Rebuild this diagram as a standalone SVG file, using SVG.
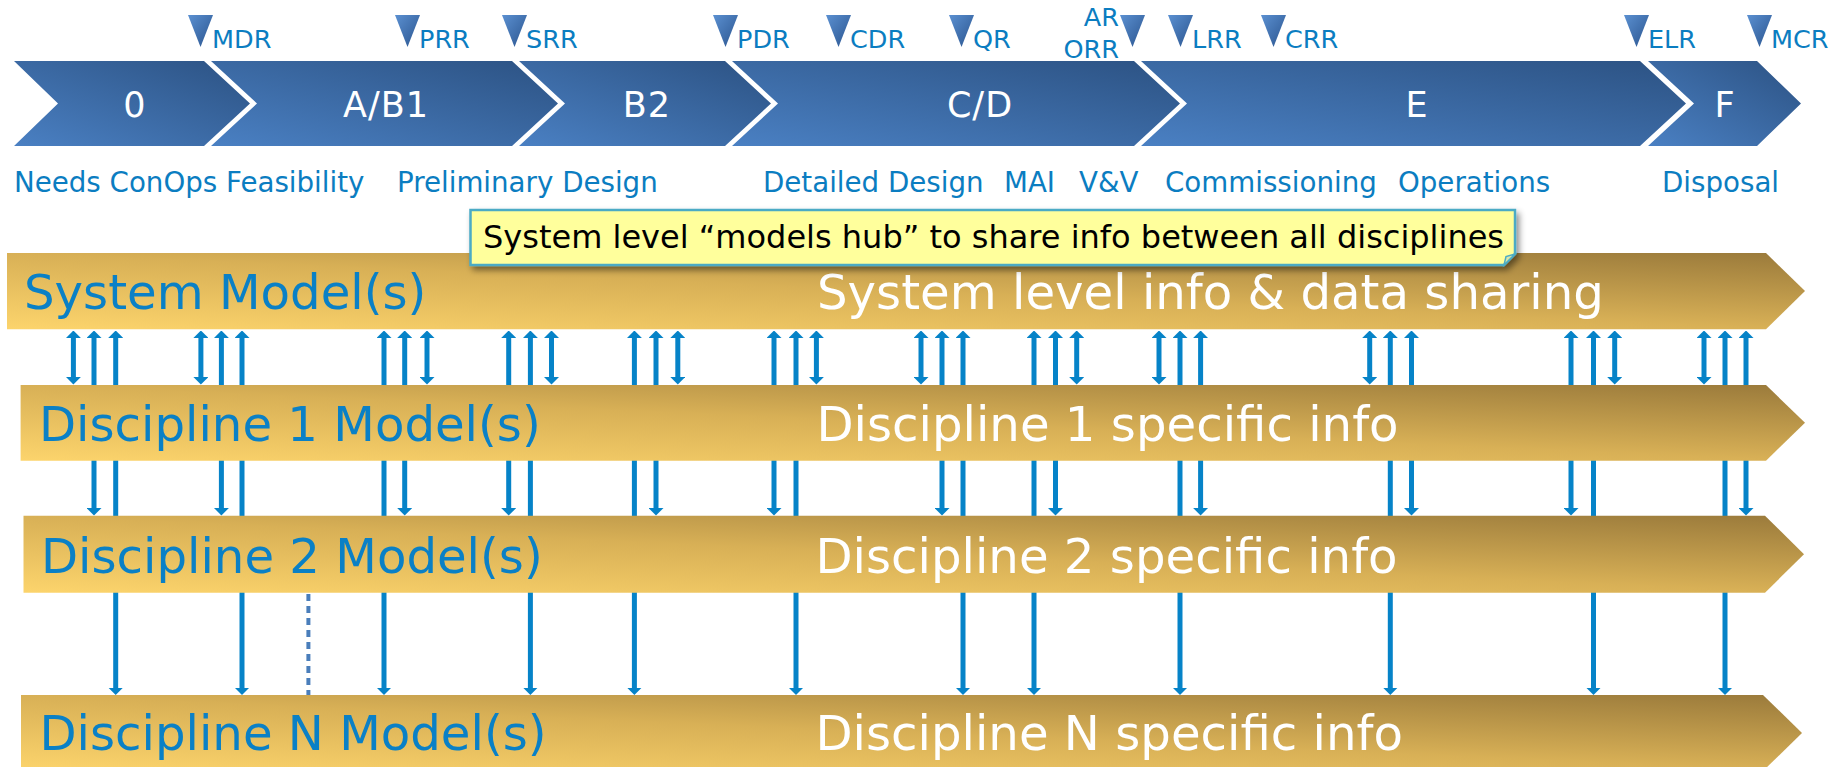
<svg xmlns="http://www.w3.org/2000/svg" width="1842" height="767" viewBox="0 0 1842 767">
<style>
  .chev { fill: url(#gBlue); }
  .chevTxt { font-family: "DejaVu Sans", sans-serif; font-size: 35px; fill: #ffffff; text-anchor: middle; letter-spacing: 1px; }
  .tri { fill: url(#gTri); }
  .ms { font-family: "DejaVu Sans", sans-serif; font-size: 25.5px; fill: #0b7dc1; }
  .phase { font-family: "DejaVu Sans", sans-serif; font-size: 27.7px; fill: #0b7dc1; }
  .band { fill: url(#gGold); }
  .bandL { font-family: "DejaVu Sans", sans-serif; font-size: 48.2px; fill: #0a80c6; }
  .bandR { font-family: "DejaVu Sans", sans-serif; font-size: 48.2px; fill: #ffffff; }
  .arr { stroke: #0683c8; stroke-width: 5; fill: none; marker-start: url(#ah); marker-end: url(#ah); }
  .dots { stroke: #4a7ebb; stroke-width: 4; stroke-dasharray: 7 5; fill: none; }
  .noteTxt { font-family: "DejaVu Sans", sans-serif; font-size: 32px; fill: #000000; }
</style>
<defs>
  <linearGradient id="gBlue" x1="0" y1="1" x2="1" y2="0">
    <stop offset="0" stop-color="#4a80c3"/>
    <stop offset="1" stop-color="#2c5283"/>
  </linearGradient>
  <linearGradient id="gTri" x1="0" y1="0" x2="1" y2="1">
    <stop offset="0" stop-color="#5b90d1"/>
    <stop offset="1" stop-color="#2a548e"/>
  </linearGradient>
  <linearGradient id="gGold" x1="0" y1="1" x2="1" y2="0">
    <stop offset="0" stop-color="#fcd46c"/>
    <stop offset="0.5" stop-color="#d8b056"/>
    <stop offset="1" stop-color="#9a7a3b"/>
  </linearGradient>
  <marker id="ah" viewBox="0 -7.5 7.5 15" markerUnits="userSpaceOnUse" markerWidth="7.5" markerHeight="15" refX="2.5" refY="0" orient="auto-start-reverse">
    <path d="M0,-7.5 L7.5,0 L0,7.5 Z" fill="#0683c8"/>
  </marker>
  <filter id="shadow" x="-5%" y="-30%" width="110%" height="180%">
    <feDropShadow dx="3" dy="4" stdDeviation="3" flood-color="#000" flood-opacity="0.45"/>
  </filter>
</defs>

<rect x="0" y="0" width="1842" height="767" fill="#ffffff"/>

<!-- Phase chevrons -->
<g id="phase-0"><polygon class="chev" points="14,61 204,61 250,103.5 204,146 14,146 58,103.5"/><text class="chevTxt" x="135" y="116.5">0</text></g>
<g id="phase-AB1"><polygon class="chev" points="211,61 512,61 558,103.5 512,146 211,146 257,103.5"/><text class="chevTxt" x="386" y="116.5">A/B1</text></g>
<g id="phase-B2"><polygon class="chev" points="519,61 725,61 771,103.5 725,146 519,146 565,103.5"/><text class="chevTxt" x="647" y="116.5">B2</text></g>
<g id="phase-CD"><polygon class="chev" points="732,61 1134,61 1180,103.5 1134,146 732,146 778,103.5"/><text class="chevTxt" x="980" y="116.5">C/D</text></g>
<g id="phase-E"><polygon class="chev" points="1141,61 1640,61 1686,103.5 1640,146 1141,146 1187,103.5"/><text class="chevTxt" x="1417" y="116.5">E</text></g>
<g id="phase-F"><polygon class="chev" points="1648,61 1757,61 1801,103.5 1757,146 1648,146 1694,103.5"/><text class="chevTxt" x="1725" y="116.5">F</text></g>

<!-- Milestones -->
<g id="ms-MDR"><polygon class="tri" points="188,15 213,15 200.5,47"/><text class="ms" x="212" y="48">MDR</text></g>
<g id="ms-PRR"><polygon class="tri" points="395,15 420,15 407.5,47"/><text class="ms" x="419" y="48">PRR</text></g>
<g id="ms-SRR"><polygon class="tri" points="502,15 527,15 514.5,47"/><text class="ms" x="526" y="48">SRR</text></g>
<g id="ms-PDR"><polygon class="tri" points="713,15 738,15 725.5,47"/><text class="ms" x="737" y="48">PDR</text></g>
<g id="ms-CDR"><polygon class="tri" points="826,15 851,15 838.5,47"/><text class="ms" x="850" y="48">CDR</text></g>
<g id="ms-QR"><polygon class="tri" points="949,15 974,15 961.5,47"/><text class="ms" x="973" y="48">QR</text></g>
<g id="ms-AR-ORR"><polygon class="tri" points="1120,15 1145,15 1132.5,47"/><text class="ms" x="1119" y="26" text-anchor="end">AR</text><text class="ms" x="1119" y="58" text-anchor="end">ORR</text></g>
<g id="ms-LRR"><polygon class="tri" points="1168,15 1193,15 1180.5,47"/><text class="ms" x="1192" y="48">LRR</text></g>
<g id="ms-CRR"><polygon class="tri" points="1261,15 1286,15 1273.5,47"/><text class="ms" x="1285" y="48">CRR</text></g>
<g id="ms-ELR"><polygon class="tri" points="1624,15 1649,15 1636.5,47"/><text class="ms" x="1648" y="48">ELR</text></g>
<g id="ms-MCR"><polygon class="tri" points="1747,15 1772,15 1759.5,47"/><text class="ms" x="1771" y="48">MCR</text></g>

<!-- Phase activity labels -->
<g id="phase-labels">
  <text class="phase" x="14" y="192">Needs ConOps Feasibility</text>
  <text class="phase" x="397" y="192">Preliminary Design</text>
  <text class="phase" x="763" y="192">Detailed Design</text>
  <text class="phase" x="1004" y="192">MAI</text>
  <text class="phase" x="1079" y="192">V&amp;V</text>
  <text class="phase" x="1165" y="192">Commissioning</text>
  <text class="phase" x="1398" y="192">Operations</text>
  <text class="phase" x="1662" y="192">Disposal</text>
</g>

<!-- Connectors -->
<g id="connectors">
  <line class="arr" x1="73.4" y1="335.5" x2="73.4" y2="379.5"/>
  <line class="arr" x1="94" y1="335.5" x2="94" y2="510.5"/>
  <line class="arr" x1="115.7" y1="335.5" x2="115.7" y2="690"/>
  <line class="arr" x1="200.9" y1="335.5" x2="200.9" y2="379.5"/>
  <line class="arr" x1="221.4" y1="335.5" x2="221.4" y2="510.5"/>
  <line class="arr" x1="242" y1="335.5" x2="242" y2="690"/>
  <line class="arr" x1="427" y1="335.5" x2="427" y2="379.5"/>
  <line class="arr" x1="404.7" y1="335.5" x2="404.7" y2="510.5"/>
  <line class="arr" x1="384" y1="335.5" x2="384" y2="690"/>
  <line class="arr" x1="551.5" y1="335.5" x2="551.5" y2="379.5"/>
  <line class="arr" x1="508.7" y1="335.5" x2="508.7" y2="510.5"/>
  <line class="arr" x1="530.4" y1="335.5" x2="530.4" y2="690"/>
  <line class="arr" x1="677.8" y1="335.5" x2="677.8" y2="379.5"/>
  <line class="arr" x1="656" y1="335.5" x2="656" y2="510.5"/>
  <line class="arr" x1="634.4" y1="335.5" x2="634.4" y2="690"/>
  <line class="arr" x1="816.4" y1="335.5" x2="816.4" y2="379.5"/>
  <line class="arr" x1="774" y1="335.5" x2="774" y2="510.5"/>
  <line class="arr" x1="796" y1="335.5" x2="796" y2="690"/>
  <line class="arr" x1="921" y1="335.5" x2="921" y2="379.5"/>
  <line class="arr" x1="942" y1="335.5" x2="942" y2="510.5"/>
  <line class="arr" x1="963" y1="335.5" x2="963" y2="690"/>
  <line class="arr" x1="1076.7" y1="335.5" x2="1076.7" y2="379.5"/>
  <line class="arr" x1="1055.5" y1="335.5" x2="1055.5" y2="510.5"/>
  <line class="arr" x1="1034" y1="335.5" x2="1034" y2="690"/>
  <line class="arr" x1="1159" y1="335.5" x2="1159" y2="379.5"/>
  <line class="arr" x1="1200.6" y1="335.5" x2="1200.6" y2="510.5"/>
  <line class="arr" x1="1180" y1="335.5" x2="1180" y2="690"/>
  <line class="arr" x1="1369.7" y1="335.5" x2="1369.7" y2="379.5"/>
  <line class="arr" x1="1411.5" y1="335.5" x2="1411.5" y2="510.5"/>
  <line class="arr" x1="1390.3" y1="335.5" x2="1390.3" y2="690"/>
  <line class="arr" x1="1614.7" y1="335.5" x2="1614.7" y2="379.5"/>
  <line class="arr" x1="1571" y1="335.5" x2="1571" y2="510.5"/>
  <line class="arr" x1="1593.5" y1="335.5" x2="1593.5" y2="690"/>
  <line class="arr" x1="1704" y1="335.5" x2="1704" y2="379.5"/>
  <line class="arr" x1="1746" y1="335.5" x2="1746" y2="510.5"/>
  <line class="arr" x1="1725" y1="335.5" x2="1725" y2="690"/>
  <line class="dots" x1="308.4" y1="582" x2="308.4" y2="695"/>
</g>

<!-- Model bands -->
<g id="band-system"><polygon class="band" points="7,253 1766,253 1805,291 1766,329.3 7,329.3"/><text class="bandL" x="24" y="309.3">System Model(s)</text><text class="bandR" x="817" y="309.3">System level info &amp; data sharing</text></g>
<g id="band-d1"><polygon class="band" points="20.6,385 1766,385 1805,422.8 1766,460.7 20.6,460.7"/><text class="bandL" x="39" y="440.7">Discipline 1 Model(s)</text><text class="bandR" x="816.5" y="440.7">Discipline 1 specific info</text></g>
<g id="band-d2"><polygon class="band" points="23.5,515.7 1765,515.7 1804,554.2 1765,592.7 23.5,592.7"/><text class="bandL" x="41" y="573.3">Discipline 2 Model(s)</text><text class="bandR" x="815.5" y="573.3">Discipline 2 specific info</text></g>
<g id="band-dN"><polygon class="band" points="21,695 1763,695 1802,733 1763,771 21,771"/><text class="bandL" x="39.5" y="750">Discipline N Model(s)</text><text class="bandR" x="815.5" y="750">Discipline N specific info</text></g>

<!-- Note -->
<g id="note-hub">
  <path d="M470.5,210 H1515 V254 L1504,265 H470.5 Z" fill="#ffff9c" stroke="#4babc5" stroke-width="2.5" filter="url(#shadow)"/>
  <path d="M1504,265 L1515,254 L1506,256.5 Z" fill="#d8e6a8" stroke="#4babc5" stroke-width="1.5"/>
  <text class="noteTxt" x="483" y="248.3">System level “models hub” to share info between all disciplines</text>
</g>
</svg>
